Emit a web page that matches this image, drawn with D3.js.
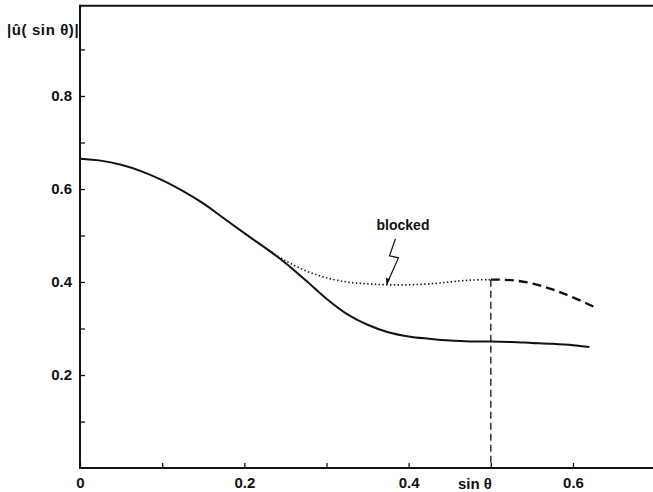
<!DOCTYPE html>
<html>
<head>
<meta charset="utf-8">
<script src="https://cdn.jsdelivr.net/npm/d3@7"></script>
<style>
  html, body { margin: 0; padding: 0; background: #fff; }
  svg { display: block; }
  text { font-family: "Liberation Sans", Arial, sans-serif; fill: #111; }
</style>
</head>
<body>
<svg id="chart" width="653" height="492"></svg>
<script>
// |û(sin θ)| versus sin θ — free curve, blocked curve and its dashed continuation
const xTicks = [0, 0.1, 0.2, 0.3, 0.4, 0.5, 0.6];
const xLabels = ["0", "", "0.2", "", "0.4", "", "0.6"];
const yTicks = [0.1, 0.2, 0.3, 0.4, 0.5, 0.6, 0.7, 0.8, 0.9];
const yLabels = ["", "0.2", "", "0.4", "", "0.6", "", "0.8", ""];

// solid curve
const solidX = [0, 0.025, 0.05, 0.075, 0.1, 0.125, 0.15, 0.175, 0.2, 0.225, 0.25, 0.275, 0.3, 0.325, 0.35, 0.375, 0.4, 0.425, 0.45, 0.475, 0.5, 0.525, 0.55, 0.575, 0.6, 0.62];
const solidY = [0.665, 0.661, 0.652, 0.638, 0.619, 0.596, 0.569, 0.537, 0.505, 0.474, 0.441, 0.403, 0.364, 0.331, 0.308, 0.292, 0.283, 0.278, 0.274, 0.272, 0.272, 0.271, 0.269, 0.267, 0.264, 0.260];

// blocked (dotted) branch
const blockedX = [0.225, 0.25, 0.275, 0.3, 0.325, 0.35, 0.375, 0.4, 0.425, 0.45, 0.475, 0.5];
const blockedY = [0.474, 0.446, 0.424, 0.409, 0.400, 0.396, 0.394, 0.394, 0.396, 0.400, 0.404, 0.405];

// dashed continuation beyond sin θ
const dashedX = [0.5, 0.525, 0.55, 0.575, 0.6, 0.63];
const dashedY = [0.405, 0.404, 0.397, 0.384, 0.367, 0.343];

const sinTheta = 0.5;
const yTop = 0.994;

const svg = d3.select("#chart");
const x = d3.scaleLinear().domain([0, 0.6]).range([80, 573]);
const y = d3.scaleLinear().domain([0, 0.8]).range([468, 96]);
const W = 653;

// frame: top rule and axis lines
svg.append("line").attr("x1", x(0)).attr("x2", W).attr("y1", y(yTop)).attr("y2", y(yTop))
  .attr("stroke", "#111").attr("stroke-width", 2);

const yAxis = d3.axisLeft(y).tickValues(yTicks).tickSize(-5).tickPadding(8)
  .tickFormat((d, i) => yLabels[i]);
const gy = svg.append("g").attr("transform", `translate(${x(0)},0)`).call(yAxis);
gy.select(".domain").remove();
svg.append("line").attr("x1", x(0)).attr("x2", x(0)).attr("y1", y(yTop) - 1).attr("y2", y(0))
  .attr("stroke", "#111").attr("stroke-width", 2);

const xAxis = d3.axisBottom(x).tickValues(xTicks).tickSize(-5).tickPadding(9)
  .tickFormat((d, i) => xLabels[i]);
const gx = svg.append("g").attr("transform", `translate(0,${y(0)})`).call(xAxis);
gx.select(".domain").remove();
svg.append("line").attr("x1", x(0) - 1).attr("x2", W).attr("y1", y(0)).attr("y2", y(0))
  .attr("stroke", "#111").attr("stroke-width", 2);

svg.selectAll(".tick line").attr("stroke", "#111").attr("stroke-width", 1.3);
svg.selectAll(".tick text").attr("font-size", 15).attr("font-weight", "bold")
  .attr("font-family", "Liberation Sans, Arial, sans-serif").attr("fill", "#111");

// "sin θ" marker label on the x axis
svg.append("text").attr("x", x(sinTheta) + 1).attr("y", y(0) + 21)
  .attr("text-anchor", "end").attr("font-size", 15).attr("font-weight", "bold")
  .text("sin θ");

// y-axis title
svg.append("text").attr("x", 7).attr("y", 35).attr("font-size", 15).attr("font-weight", "bold")
  .attr("letter-spacing", 0.6)
  .text("|û( sin θ)|");

const line = d3.line().x(d => x(d[0])).y(d => y(d[1])).curve(d3.curveCatmullRom.alpha(0.5));
const zipPts = (xs, ys) => xs.map((v, i) => [v, ys[i]]);

svg.append("path").datum(zipPts(solidX, solidY)).attr("d", line)
  .attr("fill", "none").attr("stroke", "#111").attr("stroke-width", 2);

svg.append("path").datum(zipPts(blockedX, blockedY)).attr("d", line)
  .attr("fill", "none").attr("stroke", "#111").attr("stroke-width", 1.6)
  .attr("stroke-dasharray", "1.4,2.4");

svg.append("path").datum(zipPts(dashedX, dashedY)).attr("d", line)
  .attr("fill", "none").attr("stroke", "#111").attr("stroke-width", 2.3)
  .attr("stroke-dasharray", "9,5");

// vertical dashed line at sin θ
svg.append("line").attr("x1", x(sinTheta)).attr("x2", x(sinTheta))
  .attr("y1", y(dashedY[0])).attr("y2", y(0))
  .attr("stroke", "#111").attr("stroke-width", 1.3).attr("stroke-dasharray", "7,4");

// "blocked" label with lightning-bolt pointer to the dotted branch
const tipX = 0.373, tipY = 0.394;
svg.append("text").attr("x", 403).attr("y", 230).attr("text-anchor", "middle")
  .attr("font-size", 14).attr("font-weight", "bold").text("blocked");
const bolt = [[x(tipX) + 9, y(tipY) - 46], [x(tipX) + 3, y(tipY) - 29], [x(tipX) + 12, y(tipY) - 27], [x(tipX), y(tipY)]];
svg.append("path").attr("d", d3.line()(bolt)).attr("fill", "none")
  .attr("stroke", "#111").attr("stroke-width", 1.2);
svg.append("path")
  .attr("d", `M${x(tipX)},${y(tipY)} l-0.5,-7 l4,1.5 z`)
  .attr("fill", "#111");
</script>
</body>
</html>
